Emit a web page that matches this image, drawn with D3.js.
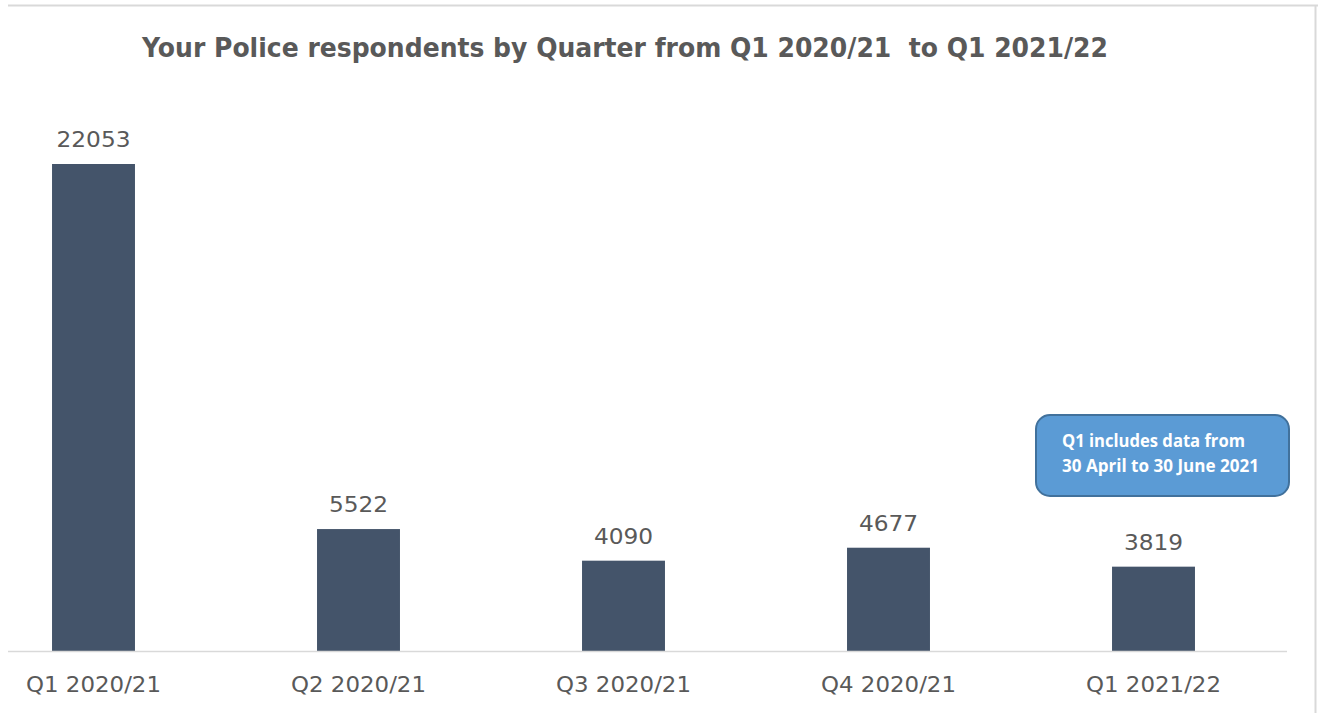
<!DOCTYPE html>
<html>
<head>
<meta charset="utf-8">
<script src="https://cdn.jsdelivr.net/npm/d3@7"></script>
<style>
  html, body { margin: 0; padding: 0; background: #fff; }
  svg { display: block; }
</style>
</head>
<body>
<svg id="chart" width="1318" height="713"></svg>
<script>
const categories = ["Q1 2020/21", "Q2 2020/21", "Q3 2020/21", "Q4 2020/21", "Q1 2021/22"];
const respondents = [22053, 5522, 4090, 4677, 3819];
const titleText = "Your Police respondents by Quarter from Q1 2020/21  to Q1 2021/22";
const calloutLines = ["Q1 includes data from", "30 April to 30 June 2021"];

const svg = d3.select("#chart");
const W = 1318, H = 713;

// frame
svg.append("line").attr("x1", 8).attr("x2", W).attr("y1", 5.5).attr("y2", 5.5)
  .attr("stroke", "#d9d9d9").attr("stroke-width", 2);
svg.append("line").attr("x1", 1315.5).attr("x2", 1315.5).attr("y1", 5).attr("y2", H)
  .attr("stroke", "#d9d9d9").attr("stroke-width", 2);

const x = d3.scaleBand().domain(categories).range([-39, 1286]).padding(0);
const y = d3.scaleLinear().domain([0, 25000]).range([651, 651 - 25000 * (487 / 22053)]);
const barW = x.bandwidth() * 0.313;

// title
svg.append("text")
  .attr("x", 625).attr("y", 57)
  .attr("text-anchor", "middle")
  .attr("font-family", "'DejaVu Sans', sans-serif")
  .attr("font-weight", "bold")
  .attr("font-size", 27)
  .attr("fill", "#595959")
  .attr("textLength", 966).attr("lengthAdjust", "spacingAndGlyphs")
  .style("white-space", "pre")
  .text(titleText);

// bars
svg.append("g").selectAll("rect").data(respondents).join("rect")
  .attr("x", (d, i) => x(categories[i]) + x.bandwidth() / 2 - barW / 2)
  .attr("y", d => y(d))
  .attr("width", barW)
  .attr("height", d => y(0) - y(d))
  .attr("fill", "#44546A");

// value labels
svg.append("g").selectAll("text").data(respondents).join("text")
  .attr("x", (d, i) => x(categories[i]) + x.bandwidth() / 2)
  .attr("y", d => y(d) - 17)
  .attr("text-anchor", "middle")
  .attr("font-family", "'DejaVu Sans', sans-serif")
  .attr("font-size", 22)
  .attr("fill", "#595959")
  .attr("textLength", 74).attr("lengthAdjust", "spacingAndGlyphs")
  .each(function(d) { d3.select(this).attr("textLength", String(d).length * 14.8); })
  .text(d => d);

// axis
const axisG = svg.append("g").attr("transform", `translate(0,${y(0)})`)
  .call(d3.axisBottom(x).tickSize(0).tickPadding(0));
axisG.select(".domain").remove();
axisG.append("line").attr("x1", 8).attr("x2", 1287).attr("y1", 0.5).attr("y2", 0.5)
  .attr("stroke", "#d9d9d9").attr("stroke-width", 1.5);
axisG.selectAll(".tick text")
  .attr("y", 41).attr("dy", 0)
  .attr("font-family", "'DejaVu Sans', sans-serif")
  .attr("font-size", 22)
  .attr("fill", "#595959")
  .attr("textLength", 135).attr("lengthAdjust", "spacingAndGlyphs");

// callout
const cg = svg.append("g");
cg.append("rect").attr("x", 1036).attr("y", 415).attr("width", 253).attr("height", 81)
  .attr("rx", 14).attr("ry", 14)
  .attr("fill", "#5B9BD5").attr("stroke", "#41719C").attr("stroke-width", 2);
const lineW = [183, 197];
cg.selectAll("text").data(calloutLines).join("text")
  .attr("x", 1062)
  .attr("y", (d, i) => 447 + i * 25)
  .attr("font-family", "'Open Sans', sans-serif")
  .attr("font-weight", "bold")
  .attr("font-size", 17)
  .attr("fill", "#ffffff")
  .attr("textLength", (d, i) => lineW[i]).attr("lengthAdjust", "spacingAndGlyphs")
  .text(d => d);
</script>
</body>
</html>
